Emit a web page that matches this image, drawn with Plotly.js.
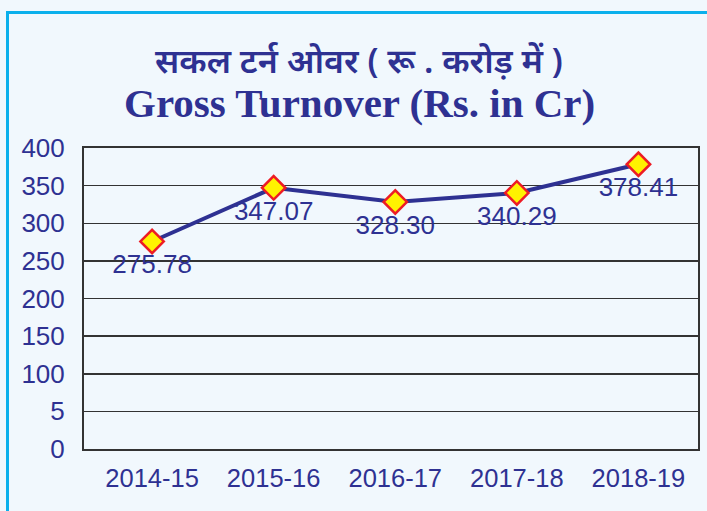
<!DOCTYPE html>
<html>
<head>
<meta charset="utf-8">
<script src="https://cdn.plot.ly/plotly-3.0.1.min.js"></script>
<style>
  html, body { margin: 0; padding: 0; background: #F1F8FD; }
  #wrap { position: relative; width: 707px; height: 511px; overflow: hidden; }
  #frame { position: absolute; left: 6px; top: 11px; width: 720px; height: 520px;
           border-left: 3px solid #0AB0EC; border-top: 3px solid #0AB0EC; box-sizing: border-box; }
  #chart { position: absolute; left: 0; top: 0; width: 707px; height: 511px; }
</style>
</head>
<body>
<div id="wrap">
  <div id="frame"></div>
  <div id="chart"></div>
</div>
<script>
// Data
const years = ["2014-15", "2015-16", "2016-17", "2017-18", "2018-19"];
const turnover = [275.78, 347.07, 328.30, 340.29, 378.41];
const yTickVals = [0, 50, 100, 150, 200, 250, 300, 350, 400];
const yTickText = ["0", "5", "100", "150", "200", "250", "300", "350", "400"];
const titleHindi = "सकल टर्न ओवर ( रू . करोड़ में )";
const titleEnglish = "Gross Turnover (Rs. in Cr)";

const navy = "#2E3192";

const trace = {
  x: years,
  y: turnover,
  type: "scatter",
  mode: "lines+markers+text",
  line: { color: navy, width: 4 },
  marker: { symbol: "diamond", size: 18, color: "#FFF200", line: { color: "#ED1C24", width: 2.5 } },
  text: turnover.map(v => v.toFixed(2)),
  textposition: "bottom center",
  textfont: { family: "Liberation Sans, Arial, sans-serif", size: 26, color: navy },
  hoverinfo: "x+y",
  cliponaxis: false
};

const layout = {
  width: 707,
  height: 511,
  margin: { l: 84, r: 9, t: 148, b: 62 },
  paper_bgcolor: "rgba(0,0,0,0)",
  plot_bgcolor: "rgba(0,0,0,0)",
  showlegend: false,
  font: { family: "Liberation Sans, Arial, sans-serif", color: navy, size: 26 },
  xaxis: {
    type: "category",
    range: [-0.56, 4.49],
    showgrid: false,
    showline: true, linecolor: "#333333", linewidth: 2, mirror: true,
    ticks: "", tickfont: { size: 25.5, color: navy },
    ticklabelstandoff: 5
  },
  yaxis: {
    range: [0, 400],
    tickmode: "array", tickvals: yTickVals, ticktext: yTickText,
    showgrid: true, gridcolor: "#333333", gridwidth: 1.5,
    showline: true, linecolor: "#333333", linewidth: 2, mirror: true,
    zeroline: false,
    ticks: "", tickfont: { size: 26, color: navy },
    ticklabelstandoff: 12
  },
  annotations: [
    { text: titleHindi, xref: "paper", yref: "paper", x: 0.448, y: 1.0,
      xanchor: "center", yanchor: "bottom", yshift: 63, showarrow: false,
      font: { family: "Noto Sans, Lohit Devanagari, FreeSerif, sans-serif", size: 34, color: navy, weight: 600 } },
    { text: "<b>" + titleEnglish + "</b>", xref: "paper", yref: "paper", x: 0.449, y: 1.0,
      xanchor: "center", yanchor: "bottom", yshift: 20, showarrow: false,
      font: { family: "Liberation Serif, Times New Roman, serif", size: 41, color: navy } }
  ]
};

Plotly.newPlot("chart", [trace], layout, { displayModeBar: false, staticPlot: true });
</script>
</body>
</html>
